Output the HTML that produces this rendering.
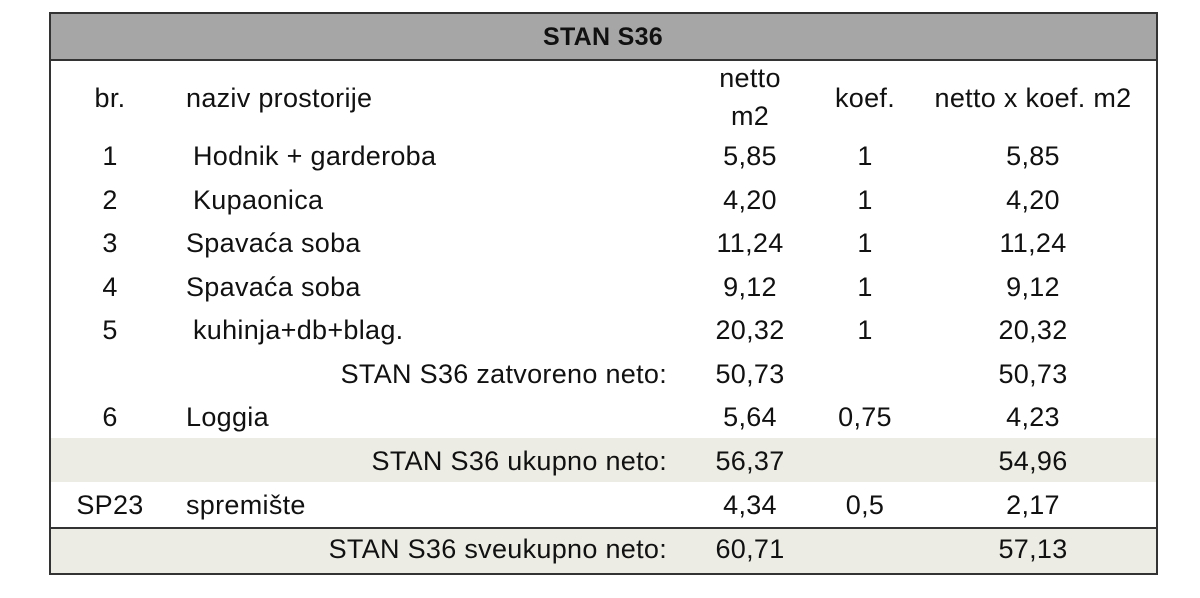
<!DOCTYPE html>
<html><head><meta charset="utf-8"><style>
body{margin:0;width:1200px;height:598px;background:#fff;position:relative;overflow:hidden;font-family:"Liberation Sans",Carlito,sans-serif;color:#111}
.b{position:absolute;left:49px;top:12px;width:1105px;height:559px;border:2px solid #333}
.hd{position:absolute;left:51px;top:14px;width:1105px;height:45px;background:#a6a6a6;border-bottom:2px solid #333}
.sh{position:absolute;left:51px;width:1105px;background:#ecece5}
.t{position:absolute;font-size:27px;letter-spacing:0.3px;line-height:30px;white-space:nowrap;transform:translateY(-50%)}
.c{transform:translate(-50%,-50%)}
.r{transform:translate(-100%,-50%)}
</style></head><body>
<div class="sh" style="top:438px;height:44px"></div>
<div class="sh" style="top:527px;height:44px;border-top:2px solid #333"></div>
<div class="hd"></div>
<div class="b"></div>
<div class="t c" style="left:603px;top:37px;font-weight:bold;font-size:25px">STAN S36</div>
<div class="t c" style="left:110px;top:98px">br.</div>
<div class="t" style="left:186px;top:98px">naziv prostorije</div>
<div class="t c" style="left:750px;top:78px">netto</div>
<div class="t c" style="left:750px;top:116px">m2</div>
<div class="t c" style="left:865px;top:98px">koef.</div>
<div class="t c" style="left:1033px;top:98px">netto x koef. m2</div>

<div class="t c" style="left:110px;top:156px">1</div><div class="t" style="left:193px;top:156px">Hodnik + garderoba</div><div class="t c" style="left:750px;top:156px">5,85</div><div class="t c" style="left:865px;top:156px">1</div><div class="t c" style="left:1033px;top:156px">5,85</div>
<div class="t c" style="left:110px;top:200px">2</div><div class="t" style="left:193px;top:200px">Kupaonica</div><div class="t c" style="left:750px;top:200px">4,20</div><div class="t c" style="left:865px;top:200px">1</div><div class="t c" style="left:1033px;top:200px">4,20</div>
<div class="t c" style="left:110px;top:243px">3</div><div class="t" style="left:186px;top:243px">Spavaća soba</div><div class="t c" style="left:750px;top:243px">11,24</div><div class="t c" style="left:865px;top:243px">1</div><div class="t c" style="left:1033px;top:243px">11,24</div>
<div class="t c" style="left:110px;top:287px">4</div><div class="t" style="left:186px;top:287px">Spavaća soba</div><div class="t c" style="left:750px;top:287px">9,12</div><div class="t c" style="left:865px;top:287px">1</div><div class="t c" style="left:1033px;top:287px">9,12</div>
<div class="t c" style="left:110px;top:330px">5</div><div class="t" style="left:193px;top:330px">kuhinja+db+blag.</div><div class="t c" style="left:750px;top:330px">20,32</div><div class="t c" style="left:865px;top:330px">1</div><div class="t c" style="left:1033px;top:330px">20,32</div>
<div class="t r" style="left:667px;top:374px">STAN S36 zatvoreno neto:</div><div class="t c" style="left:750px;top:374px">50,73</div><div class="t c" style="left:1033px;top:374px">50,73</div>
<div class="t c" style="left:110px;top:417px">6</div><div class="t" style="left:186px;top:417px">Loggia</div><div class="t c" style="left:750px;top:417px">5,64</div><div class="t c" style="left:865px;top:417px">0,75</div><div class="t c" style="left:1033px;top:417px">4,23</div>
<div class="t r" style="left:667px;top:461px">STAN S36 ukupno neto:</div><div class="t c" style="left:750px;top:461px">56,37</div><div class="t c" style="left:1033px;top:461px">54,96</div>
<div class="t c" style="left:110px;top:505px">SP23</div><div class="t" style="left:186px;top:505px">spremište</div><div class="t c" style="left:750px;top:505px">4,34</div><div class="t c" style="left:865px;top:505px">0,5</div><div class="t c" style="left:1033px;top:505px">2,17</div>
<div class="t r" style="left:667px;top:549px">STAN S36 sveukupno neto:</div><div class="t c" style="left:750px;top:549px">60,71</div><div class="t c" style="left:1033px;top:549px">57,13</div>
</body></html>
